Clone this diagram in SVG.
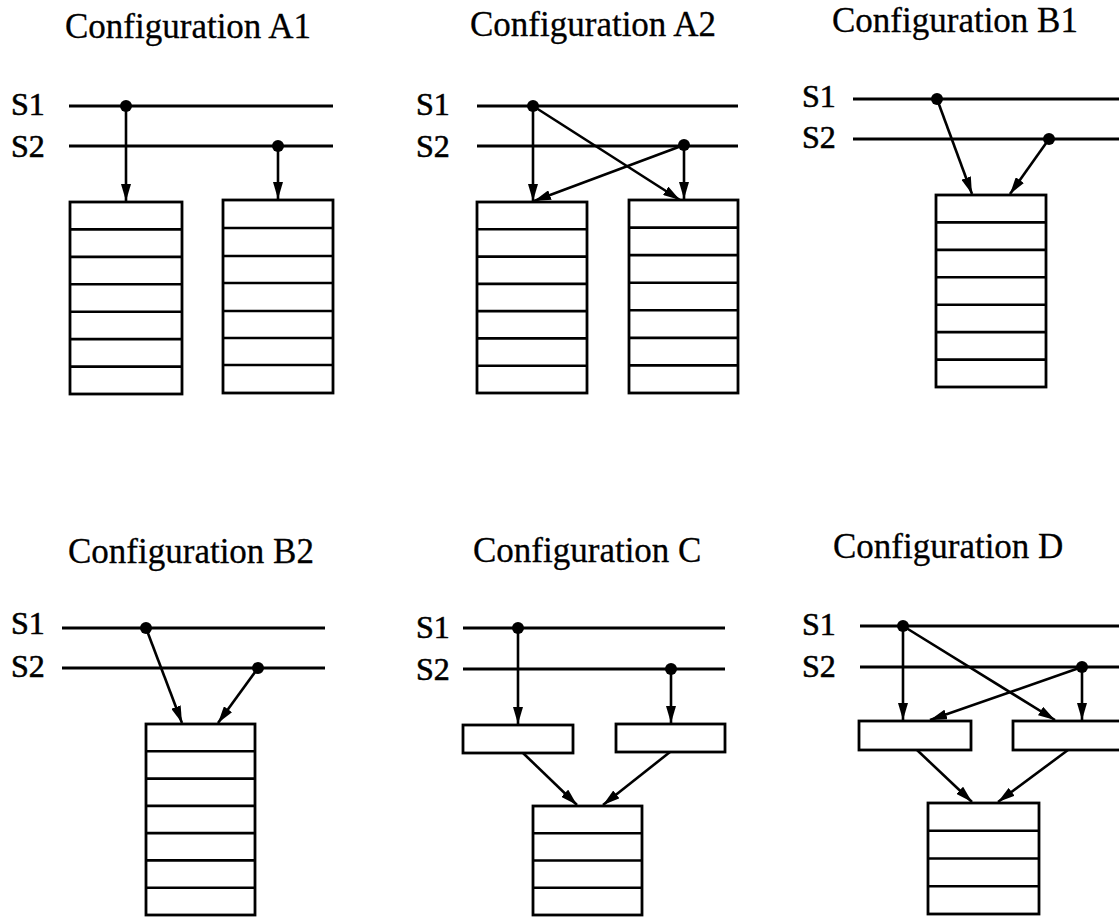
<svg xmlns="http://www.w3.org/2000/svg" width="1119" height="917" viewBox="0 0 1119 917">
<style>
.t{font-family:"Liberation Serif","Times New Roman",serif;font-size:35px;fill:#000;stroke:#000;stroke-width:0.3}
.s{font-family:"Liberation Serif","Times New Roman",serif;font-size:32px;fill:#000;stroke:#000;stroke-width:0.6}
.bus{stroke:#000;stroke-width:2.8;fill:none}
.box{stroke:#000;stroke-width:2.8;fill:#fff}
.row{stroke:#000;stroke-width:2.6}
.arr{stroke:#000;stroke-width:2.6;fill:none;marker-end:url(#ah)}
.dot{fill:#000}
</style>
<defs>
<marker id="ah" markerUnits="userSpaceOnUse" markerWidth="17" markerHeight="10" refX="17" refY="5" orient="auto">
<path d="M0,0 L17,5 L0,10 z" fill="#000"/>
</marker>
</defs>
<rect width="1119" height="917" fill="#fff"/>

<!-- Configuration A1 -->
<g id="configA1">
<text class="t" x="65" y="38">Configuration A1</text>
<text class="s" x="11" y="115">S1</text>
<text class="s" x="11" y="157">S2</text>
<line class="bus" x1="69" y1="106" x2="333" y2="106"/>
<line class="bus" x1="69" y1="146" x2="333" y2="146"/>
</g>
<g id="A1-buf1">
<rect class="box" x="70" y="202" width="112" height="192"/>
<path class="row" d="M70,229.4H182M70,256.9H182M70,284.3H182M70,311.7H182M70,339.1H182M70,366.6H182"/>
</g>
<g id="A1-buf2">
<rect class="box" x="223" y="200" width="110" height="193"/>
<path class="row" d="M223,228H333M223,256H333M223,283H333M223,311H333M223,338H333M223,365H333"/>
</g>

<!-- Configuration A2 -->
<g id="configA2">
<text class="t" x="470" y="36">Configuration A2</text>
<text class="s" x="416" y="115">S1</text>
<text class="s" x="416" y="157">S2</text>
<line class="bus" x1="477" y1="106" x2="738" y2="106"/>
<line class="bus" x1="477" y1="146" x2="738" y2="146"/>
</g>
<g id="A2-buf1">
<rect class="box" x="477" y="202" width="110" height="191"/>
<path class="row" d="M477,229.3H587M477,256.6H587M477,283.9H587M477,311.1H587M477,338.4H587M477,365.7H587"/>
</g>
<g id="A2-buf2">
<rect class="box" x="629" y="200" width="109" height="193"/>
<path class="row" d="M629,227.6H738M629,255.1H738M629,282.7H738M629,310.3H738M629,337.9H738M629,365.4H738"/>
</g>

<!-- Configuration B1 -->
<g id="configB1">
<text class="t" x="832" y="32">Configuration B1</text>
<text class="s" x="802" y="107">S1</text>
<text class="s" x="802" y="148">S2</text>
<line class="bus" x1="853" y1="99" x2="1119" y2="99"/>
<line class="bus" x1="853" y1="139" x2="1119" y2="139"/>
</g>
<g id="B1-buf">
<rect class="box" x="936" y="195" width="110" height="192"/>
<path class="row" d="M936,222.4H1046M936,249.9H1046M936,277.3H1046M936,304.7H1046M936,332.1H1046M936,359.6H1046"/>
</g>

<!-- Configuration B2 -->
<g id="configB2">
<text class="t" x="68" y="563">Configuration B2</text>
<text class="s" x="11" y="634">S1</text>
<text class="s" x="11" y="677">S2</text>
<line class="bus" x1="62" y1="628" x2="325" y2="628"/>
<line class="bus" x1="62" y1="668" x2="325" y2="668"/>
</g>
<g id="B2-buf">
<rect class="box" x="146" y="724" width="109" height="191"/>
<path class="row" d="M146,751.3H255M146,778.6H255M146,805.9H255M146,833.1H255M146,860.4H255M146,887.7H255"/>
</g>

<!-- Configuration C -->
<g id="configC">
<text class="t" x="473" y="562">Configuration C</text>
<text class="s" x="416" y="638">S1</text>
<text class="s" x="416" y="680">S2</text>
<line class="bus" x1="463" y1="628" x2="725" y2="628"/>
<line class="bus" x1="463" y1="669" x2="725" y2="669"/>
</g>
<g id="C-reg1"><rect class="box" x="463" y="725" width="110" height="28"/></g>
<g id="C-reg2"><rect class="box" x="616" y="724" width="109" height="28"/></g>
<g id="C-buf">
<rect class="box" x="533" y="806" width="109" height="109"/>
<path class="row" d="M533,833.3H642M533,860.5H642M533,887.8H642"/>
</g>

<!-- Configuration D -->
<g id="configD">
<text class="t" x="833" y="558">Configuration D</text>
<text class="s" x="802" y="635">S1</text>
<text class="s" x="802" y="677">S2</text>
<line class="bus" x1="860" y1="626" x2="1119" y2="626"/>
<line class="bus" x1="860" y1="667" x2="1119" y2="667"/>
</g>
<g id="D-reg1"><rect class="box" x="859" y="721" width="112" height="29"/></g>
<g id="D-reg2"><rect class="box" x="1013" y="721" width="112" height="29"/></g>
<g id="D-buf">
<rect class="box" x="928" y="803" width="111" height="111"/>
<path class="row" d="M928,830.8H1039M928,858.5H1039M928,886.3H1039"/>
</g>

<!-- Connectors -->
<g id="connectors">
<!-- A1 -->
<line class="arr" x1="126" y1="106" x2="126" y2="201"/>
<line class="arr" x1="278" y1="146" x2="278" y2="199"/>
<circle class="dot" cx="126" cy="106" r="6"/>
<circle class="dot" cx="278" cy="146" r="6"/>
<!-- A2 -->
<line class="arr" x1="533" y1="106" x2="533" y2="201"/>
<line class="arr" x1="533" y1="106" x2="680" y2="200"/>
<line class="arr" x1="684" y1="145" x2="534" y2="201"/>
<line class="arr" x1="684" y1="145" x2="684" y2="199"/>
<circle class="dot" cx="533" cy="106" r="6"/>
<circle class="dot" cx="684" cy="145" r="6"/>
<!-- B1 -->
<line class="arr" x1="937" y1="99" x2="972" y2="194"/>
<line class="arr" x1="1049" y1="139" x2="1010" y2="194"/>
<circle class="dot" cx="937" cy="99" r="6"/>
<circle class="dot" cx="1049" cy="139" r="6"/>
<!-- B2 -->
<line class="arr" x1="146" y1="628" x2="182" y2="723"/>
<line class="arr" x1="258" y1="668" x2="218" y2="723"/>
<circle class="dot" cx="146" cy="628" r="6"/>
<circle class="dot" cx="258" cy="668" r="6"/>
<!-- C -->
<line class="arr" x1="518" y1="628" x2="518" y2="724"/>
<line class="arr" x1="671" y1="669" x2="671" y2="723"/>
<line class="arr" x1="523" y1="753" x2="577" y2="805"/>
<line class="arr" x1="670" y1="752" x2="603" y2="805"/>
<circle class="dot" cx="518" cy="628" r="6"/>
<circle class="dot" cx="671" cy="669" r="6"/>
<!-- D -->
<line class="arr" x1="903" y1="626" x2="903" y2="720"/>
<line class="arr" x1="903" y1="626" x2="1055" y2="720"/>
<line class="arr" x1="1082" y1="667" x2="930" y2="720"/>
<line class="arr" x1="1082" y1="667" x2="1082" y2="720"/>
<line class="arr" x1="917" y1="750" x2="972" y2="802"/>
<line class="arr" x1="1068" y1="750" x2="998" y2="802"/>
<circle class="dot" cx="903" cy="626" r="6"/>
<circle class="dot" cx="1082" cy="667" r="6"/>
</g>
</svg>
